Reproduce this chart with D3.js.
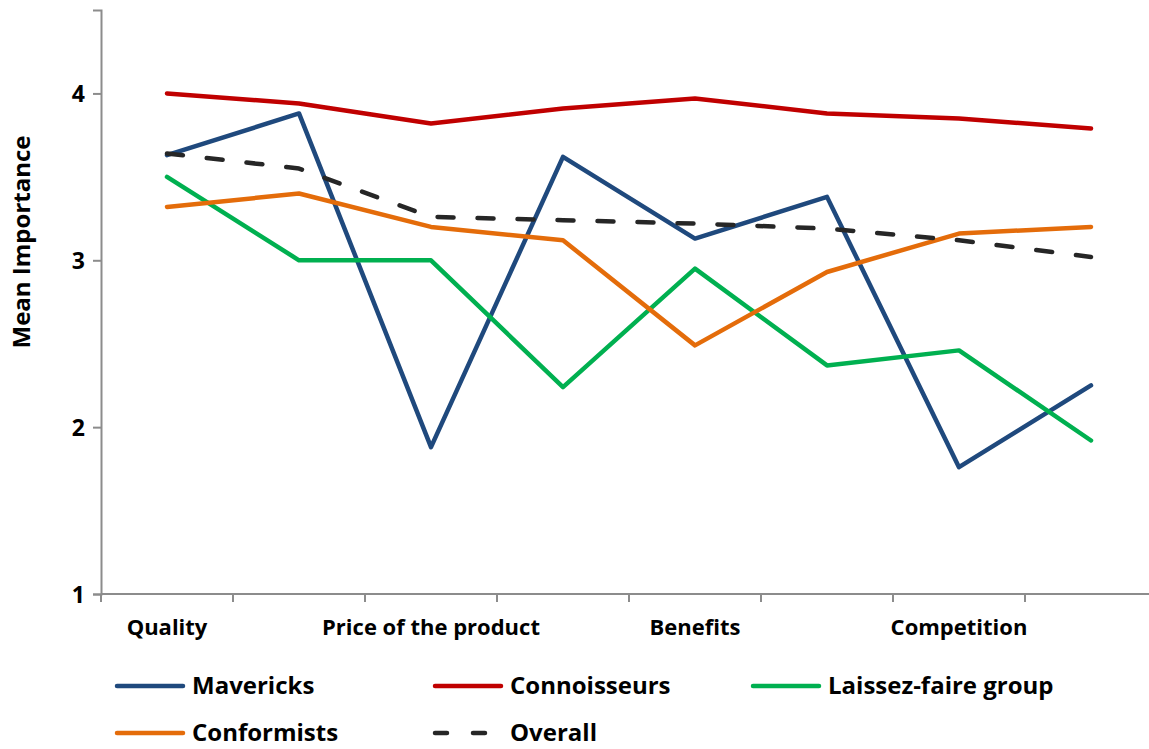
<!DOCTYPE html>
<html>
<head>
<meta charset="utf-8">
<script src="https://cdn.jsdelivr.net/npm/d3@7"></script>
<style>
  body { margin: 0; background: #fff; }
  text { font-family: "Open Sans", Lato, sans-serif; font-weight: bold; fill: #000; }
</style>
</head>
<body>
<div id="chart"></div>
<script>
var width = 1149, height = 749;
var margin = { top: 10, right: -8, bottom: 155, left: 101 };

// only every second category name is printed on the axis
var tickLabels = ["Quality", "", "Price of the product", "", "Benefits", "", "Competition", ""];
var seriesNames = ["Mavericks", "Connoisseurs", "Laissez-faire group", "Conformists", "Overall"];
var colors = ["#1F497D", "#C00000", "#00B050", "#E46C0A", "#262626"];

var mavericks    = [3.63, 3.88, 1.88, 3.62, 3.13, 3.38, 1.76, 2.25];
var connoisseurs = [4.00, 3.94, 3.82, 3.91, 3.97, 3.88, 3.85, 3.79];
var laissezFaire = [3.50, 3.00, 3.00, 2.24, 2.95, 2.37, 2.46, 1.92];
var conformists  = [3.32, 3.40, 3.20, 3.12, 2.49, 2.93, 3.16, 3.20];
var overall      = [3.64, 3.55, 3.26, 3.24, 3.22, 3.19, 3.12, 3.02];

var series = [mavericks, connoisseurs, laissezFaire, conformists, overall];

var svg = d3.select("#chart").append("svg")
    .attr("width", width)
    .attr("height", height);

var x = d3.scaleBand()
    .domain(d3.range(tickLabels.length))
    .range([margin.left, width - margin.right])
    .padding(0);

var y = d3.scaleLinear()
    .domain([1, 4.5])
    .range([height - margin.bottom, margin.top]);

var axisColor = "#8C8C8C";

// y axis
var yAxis = svg.append("g")
    .attr("transform", "translate(" + margin.left + ",0)")
    .call(d3.axisLeft(y).tickValues([1, 2, 3, 4]).tickSize(8).tickPadding(8).tickFormat(d3.format("d")));
yAxis.select(".domain").attr("stroke", axisColor).attr("stroke-width", 2);
yAxis.selectAll(".tick line").attr("stroke", axisColor).attr("stroke-width", 2);
yAxis.selectAll(".tick text").style("font-size", "23px").attr("dy", "0.35em");

// x axis line + ticks on category boundaries
var x0 = x.range()[0], x1 = x.range()[1];
svg.append("line")
    .attr("x1", x0).attr("x2", x1)
    .attr("y1", y(1)).attr("y2", y(1))
    .attr("stroke", axisColor).attr("stroke-width", 2);

var edges = x.domain().map(function(d) { return x(d); }).concat([x1]);
svg.selectAll(".xtick")
    .data(edges)
    .enter().append("line")
    .attr("class", "xtick")
    .attr("x1", function(d) { return d; })
    .attr("x2", function(d) { return d; })
    .attr("y1", y(1))
    .attr("y2", y(1) + 8)
    .attr("stroke", axisColor).attr("stroke-width", 2);

svg.selectAll(".xlabel")
    .data(tickLabels)
    .enter().append("text")
    .attr("class", "xlabel")
    .attr("x", function(d, i) { return x(i) + x.bandwidth() / 2; })
    .attr("y", y(1) + 41)
    .style("font-size", "22px")
    .style("text-anchor", "middle")
    .text(function(d) { return d; });

// y title
svg.append("text")
    .attr("transform", "translate(30," + ((y(1) + y(4.5)) / 2 - 60) + ")rotate(-90)")
    .style("font-size", "24px")
    .style("text-anchor", "middle")
    .text("Mean Importance");

// lines
var line = d3.line()
    .x(function(d, i) { return x(i) + x.bandwidth() / 2; })
    .y(function(d) { return y(d); });

svg.selectAll(".series")
    .data(series)
    .enter().append("path")
    .attr("class", "series")
    .attr("d", line)
    .attr("fill", "none")
    .attr("stroke", function(d, i) { return colors[i]; })
    .attr("stroke-width", 4.5)
    .attr("stroke-linejoin", "round")
    .attr("stroke-linecap", "round")
    .attr("stroke-dasharray", function(d, i) { return i === 4 ? "16,24" : null; });

// legend
var legendPos = [
    { x: 115, y: 686 }, { x: 433, y: 686 }, { x: 751, y: 686 },
    { x: 115, y: 733 }, { x: 433, y: 733 }
];

var legend = svg.selectAll(".legend")
    .data(seriesNames)
    .enter().append("g")
    .attr("class", "legend")
    .attr("transform", function(d, i) { return "translate(" + legendPos[i].x + "," + legendPos[i].y + ")"; });

legend.append("line")
    .attr("x1", 2).attr("x2", 68)
    .attr("y1", 0).attr("y2", 0)
    .attr("stroke", function(d, i) { return colors[i]; })
    .attr("stroke-width", 4.5)
    .attr("stroke-linecap", "round")
    .attr("stroke-dasharray", function(d, i) { return i === 4 ? "12,26" : null; });

legend.append("text")
    .attr("x", 77)
    .attr("y", 0)
    .attr("dy", "0.35em")
    .style("font-size", "24px")
    .text(function(d) { return d; });
</script>
</body>
</html>
